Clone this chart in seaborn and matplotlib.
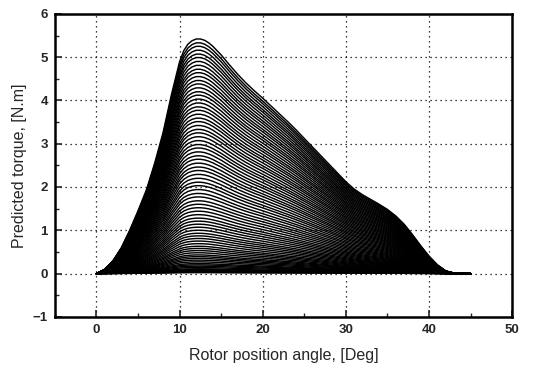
import numpy as np
import pandas as pd
import matplotlib
matplotlib.use("Agg")
import matplotlib.pyplot as plt
import seaborn as sns
from matplotlib.ticker import MultipleLocator

# Outer (highest-current) torque curve
angle = [0, 1, 2, 3, 4, 5, 6, 7, 8, 9, 10, 10.5, 11, 11.5, 12, 12.5, 13, 13.5,
         14, 15, 16, 17, 18, 19, 20, 21, 22, 23, 24, 25, 26, 27, 28, 29, 30,
         31, 32, 33, 34, 35, 36, 37, 38, 39, 40, 41, 42, 43, 44, 45]
top_torque = [0, 0.1, 0.3, 0.6, 1.0, 1.45, 1.93, 2.55, 3.25, 4.12, 4.9, 5.15,
              5.3, 5.38, 5.42, 5.42, 5.39, 5.33, 5.25, 5.05, 4.82, 4.6, 4.4,
              4.22, 4.05, 3.87, 3.69, 3.51, 3.32, 3.12, 2.92, 2.72, 2.52, 2.32,
              2.12, 1.95, 1.82, 1.71, 1.6, 1.48, 1.33, 1.14, 0.9, 0.64, 0.4,
              0.2, 0.06, 0.01, 0, 0]

peak_levels = [5.42, 5.33, 5.25, 5.16, 5.07, 4.99, 4.90, 4.81, 4.72, 4.64,
               4.55, 4.46, 4.38, 4.29, 4.20, 4.12, 4.03, 3.94, 3.85, 3.77,
               3.68, 3.59, 3.51, 3.42, 3.33, 3.25, 3.16, 3.07, 2.98, 2.90,
               2.81, 2.72, 2.64, 2.55, 2.46, 2.38, 2.29, 2.20, 2.11, 2.03,
               1.94, 1.85, 1.77, 1.68, 1.60, 1.52, 1.44, 1.36, 1.28, 1.21,
               1.14, 1.07, 1.00, 0.93, 0.87, 0.81, 0.75, 0.69, 0.63, 0.58,
               0.53, 0.48, 0.43, 0.39, 0.35, 0.31, 0.27, 0.23, 0.20, 0.17,
               0.14, 0.11, 0.09, 0.07, 0.05, 0.03, 0.02]

x_ticks = [0, 10, 20, 30, 40, 50]
y_ticks = [-1, 0, 1, 2, 3, 4, 5, 6]

top = np.array(top_torque)
tmax = top.max()
rows = []
for k, lvl in enumerate(peak_levels):
    for a, t in zip(angle, top):
        rows.append({"angle": a, "torque": t * lvl / tmax, "curve": k})
df = pd.DataFrame(rows)

sns.set_style("white")
plt.rcParams["font.family"] = ["Liberation Sans", "DejaVu Sans"]

fig = plt.figure(figsize=(5.33, 3.65), dpi=100)
ax = fig.add_axes([0.103, 0.132, 0.858, 0.830])

sns.lineplot(data=df, x="angle", y="torque", units="curve", estimator=None,
             color="black", lw=1.05, ax=ax, legend=False)

ax.set_xlim(-5, 50)
ax.set_ylim(-1, 6)
ax.set_xticks(x_ticks)
ax.set_yticks(y_ticks)
ax.xaxis.set_minor_locator(MultipleLocator(5))
ax.yaxis.set_minor_locator(MultipleLocator(0.5))
ax.grid(True, which="major", color="black", linestyle=(0, (1, 3)), linewidth=0.9)
ax.set_axisbelow(True)
for s in ax.spines.values():
    s.set_color("black")
    s.set_linewidth(1.8)
ax.tick_params(which="major", direction="in", length=5, width=1.2,
               labelsize=9.5, pad=5, bottom=True, left=True, top=False, right=False)
ax.tick_params(which="minor", direction="in", length=3, width=1.0,
               bottom=True, left=True, top=False, right=False)
for lab in ax.get_xticklabels() + ax.get_yticklabels():
    lab.set_fontweight("bold")
ax.set_xlabel("Rotor position angle, [Deg]", fontsize=11.5, labelpad=9)
ax.set_ylabel("Predicted torque, [N.m]", fontsize=11.5, labelpad=4)

fig.savefig("out.png", dpi=100, facecolor="white")
